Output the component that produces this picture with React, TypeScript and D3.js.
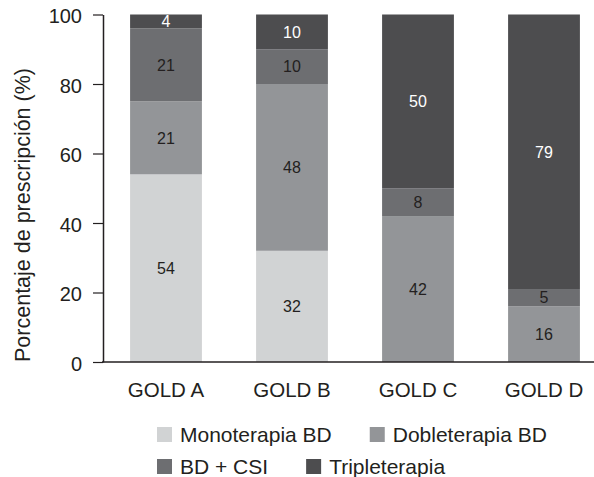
import { useEffect, useRef } from "react"
import * as d3 from "d3"

const groups = ["GOLD A", "GOLD B", "GOLD C", "GOLD D"]
const seriesNames = ["Monoterapia BD", "Dobleterapia BD", "BD + CSI", "Tripleterapia"]
const monoterapia = [54, 32, 0, 0]
const dobleterapia = [21, 48, 42, 16]
const bdCsi = [21, 10, 8, 5]
const tripleterapia = [4, 10, 50, 79]
const yTicks = [0, 20, 40, 60, 80, 100]

const colors = ["#d1d3d4", "#939598", "#6d6e71", "#4d4d4f"]
const labelColors = ["#231f20", "#231f20", "#231f20", "#ffffff"]
const FONT = "'Liberation Sans', Arial, Helvetica, sans-serif"
const INK = "#231f20"

export default function App() {
  const svgRef = useRef<SVGSVGElement>(null)

  useEffect(() => {
    if (!svgRef.current) return
    const svg = d3.select(svgRef.current)
    svg.selectAll("*").remove()

    const width = 594
    const height = 477

    const rows = groups.map((g, i) => ({
      group: g,
      s0: monoterapia[i],
      s1: dobleterapia[i],
      s2: bdCsi[i],
      s3: tripleterapia[i],
    }))
    const keys = ["s0", "s1", "s2", "s3"]
    const stacked = d3.stack<any>().keys(keys)(rows)

    const x = d3.scaleBand().domain(groups).range([103, 607]).paddingInner(0.43).paddingOuter(0.215)
    const y = d3.scaleLinear().domain([0, 100]).range([362, 14.5])

    svg.attr("width", width).attr("height", height).attr("font-family", FONT)

    // bars
    stacked.forEach((layer, k) => {
      const g = svg.append("g")
      g.selectAll("rect")
        .data(layer)
        .enter()
        .append("rect")
        .attr("x", (d: any) => x(d.data.group)!)
        .attr("width", x.bandwidth())
        .attr("y", (d) => y(d[1]))
        .attr("height", (d) => y(d[0]) - y(d[1]))
        .attr("fill", colors[k])

      g.selectAll("text")
        .data(layer.filter((d) => d[1] - d[0] > 0))
        .enter()
        .append("text")
        .attr("x", (d: any) => x(d.data.group)! + x.bandwidth() / 2)
        .attr("y", (d) => y((d[0] + d[1]) / 2))
        .attr("dy", "0.36em")
        .attr("text-anchor", "middle")
        .attr("font-size", 16)
        .attr("fill", labelColors[k])
        .text((d) => String(d[1] - d[0]))
    })

    // y axis
    const yAxis = d3.axisLeft(y).tickValues(yTicks).tickSize(10).tickSizeOuter(0).tickPadding(11)
    const ga = svg.append("g").attr("transform", "translate(103,0)").call(yAxis)
    ga.select(".domain").attr("stroke", INK).attr("stroke-width", 1.5)
    ga.selectAll(".tick line").attr("stroke", INK).attr("stroke-width", 1.2)
    ga.selectAll(".tick text")
      .attr("font-size", 20)
      .attr("font-family", FONT)
      .attr("fill", INK)
      .attr("dy", "0.42em")

    // x axis line
    svg.append("line")
      .attr("x1", 102)
      .attr("x2", width)
      .attr("y1", y(0))
      .attr("y2", y(0))
      .attr("stroke", INK)
      .attr("stroke-width", 1.5)

    svg.append("g")
      .selectAll("text")
      .data(groups)
      .enter()
      .append("text")
      .attr("x", (d) => x(d)! + x.bandwidth() / 2)
      .attr("y", 397)
      .attr("text-anchor", "middle")
      .attr("font-size", 20.5)
      .attr("fill", INK)
      .text((d) => d)

    // y title
    svg.append("text")
      .attr("transform", "rotate(-90)")
      .attr("x", -215)
      .attr("y", 30)
      .attr("text-anchor", "middle")
      .attr("font-size", 21.5)
      .attr("fill", INK)
      .text("Porcentaje de prescripción (%)")

    // legend, two rows, flowing
    const legendRows = [[0, 1], [2, 3]]
    const rowY = [442, 474]
    legendRows.forEach((row, r) => {
      let cx = 157
      row.forEach((k) => {
        const item = svg.append("g")
        item.append("rect")
          .attr("x", cx)
          .attr("y", rowY[r] - 15)
          .attr("width", 15)
          .attr("height", 15)
          .attr("fill", colors[k])
        const t = item.append("text")
          .attr("x", cx + 23)
          .attr("y", rowY[r])
          .attr("font-size", 21)
          .attr("fill", INK)
          .text(seriesNames[k])
        const w = (t.node() as SVGTextElement).getComputedTextLength()
        cx = cx + 23 + w + 38
      })
    })
  }, [])

  return (
    <div style={{ position: "absolute", left: 0, top: 0 }}>
      <svg ref={svgRef} style={{ display: "block" }} />
    </div>
  )
}
